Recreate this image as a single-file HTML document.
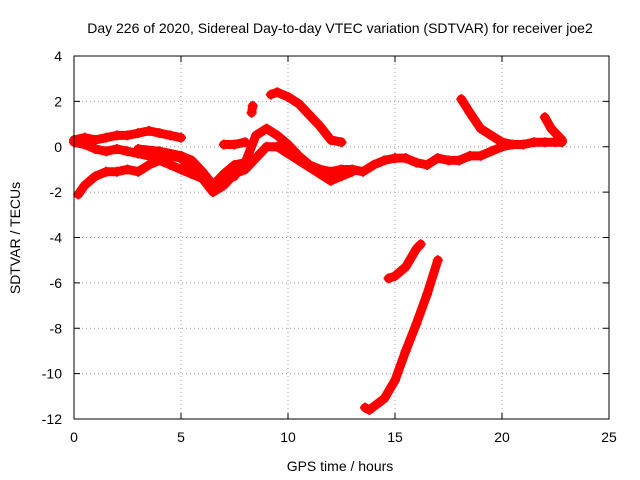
<!DOCTYPE html>
<html><head><meta charset="utf-8"><style>
html,body{margin:0;padding:0;background:#fff;}
svg{display:block;font-family:"Liberation Sans",sans-serif;}
</style></head><body>
<svg id="chart" width="640" height="480">
<text x="340" y="33" text-anchor="middle" font-size="14">Day 226 of 2020, Sidereal Day-to-day VTEC variation (SDTVAR) for receiver joe2</text>
<text x="340" y="471" text-anchor="middle" font-size="14">GPS time / hours</text>
<text transform="translate(20,238) rotate(-90)" text-anchor="middle" font-size="14">SDTVAR / TECUs</text>
<g id="grid"></g><g id="marks"></g>
<rect x="74" y="56" width="535" height="363" fill="none" stroke="#000" stroke-width="1"/>
</svg>
<script>
const xTicks=[0,5,10,15,20,25];
const yTicks=[4,2,0,-2,-4,-6,-8,-10,-12];
const trackA=[[0,0.3],[0.5,0.4],[1,0.3],[1.5,0.4],[2,0.5],[2.5,0.5],[3,0.6],[3.5,0.7],[4,0.6],[4.5,0.5],[5,0.4]];
const trackB=[[0,0.2],[0.5,0.1],[1,-0.1],[1.5,-0.2],[2,-0.1],[2.5,-0.2],[3,-0.3],[3.5,-0.4],[4,-0.6],[4.5,-0.8],[5,-1.0],[5.5,-1.2],[6,-1.4],[6.5,-1.6],[7,-1.4],[7.5,-1.3]];
const trackC=[[0.2,-2.1],[0.5,-1.7],[1,-1.3],[1.5,-1.1],[2,-1.1],[2.5,-1.0],[3,-1.1],[3.5,-0.8],[4,-0.6],[4.5,-0.4],[5,-0.5],[5.5,-1.0],[6,-1.4],[6.5,-2.0],[7,-1.7],[7.5,-1.2],[8,-1.0],[8.5,-0.5],[9,0],[9.5,0],[10,-0.3],[10.5,-0.6],[11,-0.9],[11.5,-1.2],[12,-1.5],[12.5,-1.3],[13,-1.1]];
const trackD=[[3,-0.1],[4,-0.2],[5,-0.4],[5.5,-0.6],[6,-1.1],[6.5,-1.7],[7,-1.2],[7.5,-0.8],[8,-0.7],[8.5,0.5],[9,0.8],[9.5,0.5],[10,0.1],[10.5,-0.4],[11,-0.8],[11.5,-1.0],[12,-1.1],[12.5,-1.0],[13,-1.0],[13.5,-1.1],[14,-0.8],[14.5,-0.6],[15,-0.5],[15.5,-0.5],[16,-0.7],[16.5,-0.8],[17,-0.5],[17.5,-0.6],[18,-0.6],[18.5,-0.4],[19,-0.4],[19.5,-0.2],[20,0],[20.5,0.1],[21,0.1],[21.5,0.2],[22,0.2],[22.5,0.2],[22.8,0.2]];
const trackS=[[7,0.1],[7.5,0.1],[8,0.2]];
const trackS2=[[8.3,1.5],[8.35,1.8]];
const trackE=[[9.2,2.3],[9.5,2.4],[10,2.2],[10.5,1.9],[11,1.4],[11.5,0.9],[12,0.3],[12.5,0.2]];
const trackF=[[18.1,2.1],[18.5,1.5],[19,0.8],[19.5,0.5],[20,0.2],[20.5,0.1]];
const trackF2=[[22,1.3],[22.3,0.8],[22.8,0.3]];
const trackG=[[14.7,-5.8],[15,-5.7],[15.5,-5.3],[16,-4.5],[16.2,-4.3]];
const trackH=[[13.6,-11.5],[13.8,-11.6],[14.5,-11.1],[15,-10.3],[15.5,-9],[16,-7.8],[16.5,-6.5],[17,-5.0]];
const series=[trackA,trackB,trackC,trackD,trackS,trackS2,trackE,trackF,trackF2,trackG,trackH];

const X=v=>74+v*(535/25), Y=v=>56+(4-v)*(363/16);
const NS="http://www.w3.org/2000/svg";
const grid=document.getElementById('grid'), marks=document.getElementById('marks');
function mk(p,tag,at){const e=document.createElementNS(NS,tag);for(const k in at)e.setAttribute(k,at[k]);p.appendChild(e);return e;}
xTicks.forEach(t=>{
  const l=mk(grid,'line',{x1:X(t),x2:X(t),y1:56,y2:419,stroke:'#a0a0a0','stroke-dasharray':'1,3'});
  
  
  mk(grid,'line',{x1:X(t),x2:X(t),y1:419,y2:413,stroke:'#000'});
  mk(grid,'line',{x1:X(t),x2:X(t),y1:56,y2:62,stroke:'#000'});
  const tx=mk(grid,'text',{x:X(t),y:442,'text-anchor':'middle','font-size':'14'});tx.textContent=t;
  
  
});
yTicks.forEach(t=>{
  const l=mk(grid,'line',{x1:74,x2:609,y1:Y(t),y2:Y(t),stroke:'#a0a0a0','stroke-dasharray':'1,3'});
  
  
  mk(grid,'line',{x1:74,x2:80,y1:Y(t),y2:Y(t),stroke:'#000'});
  mk(grid,'line',{x1:603,x2:609,y1:Y(t),y2:Y(t),stroke:'#000'});
  const tx=mk(grid,'text',{x:62,y:Y(t)+5,'text-anchor':'end','font-size':'14'});tx.textContent=t;
  
  
});
series.forEach(s=>{
  const g=mk(marks,'g',{});
  
  
  mk(g,'polyline',{points:s.map(p=>X(p[0])+','+Y(p[1])).join(' '),fill:'none',stroke:'#f00','stroke-width':'9','stroke-linejoin':'round','stroke-linecap':'round'});
  s.forEach(p=>{
    const x=X(p[0]),y=Y(p[1]);
    const m=mk(g,'path',{d:`M${x-5},${y}h10M${x},${y-5}v10`,stroke:'#f00','stroke-width':'2'});
    
    
  });
});
</script>
</body></html>
